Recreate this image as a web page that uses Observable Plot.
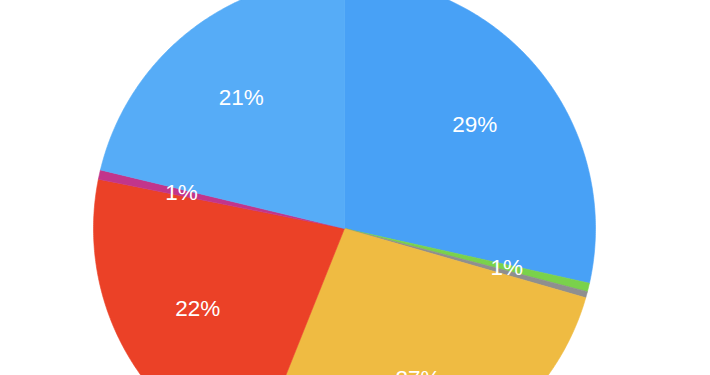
<!DOCTYPE html>
<html>
<head>
<meta charset="utf-8">
<script src="https://cdn.jsdelivr.net/npm/d3@7"></script>
<script src="https://cdn.jsdelivr.net/npm/@observablehq/plot@0.6"></script>
<style>
  html, body { margin: 0; padding: 0; background: #ffffff; overflow: hidden; }
  #chart svg { display: block; }
</style>
</head>
<body>
<div id="chart"></div>
<script>
// Slice data (clockwise from 12 o'clock)
const categories = ["A", "B", "C", "D", "E", "F", "G"];
const values = [28.5, 0.55, 0.4, 26.6, 22.1, 0.6, 21.25];
const labels = ["29%", "1%", "", "27%", "22%", "1%", "21%"];
const colors = ["#48a1f6", "#7ad24b", "#8f8f8f", "#efbb42", "#eb4127", "#c2358b", "#56acf7"];

const W = 710, H = 375;
const cx = 344, cy = 228, R = 251;

const pie = d3.pie().sort(null).value(d => d.value);
const arcs = pie(categories.map((c, i) => ({ category: c, value: values[i], label: labels[i], color: colors[i] })));

// Build polygon outlines for each slice from the pie angles
const polys = [];
arcs.forEach((a, i) => {
  const pts = [{ x: 0, y: 0 }];
  const n = Math.max(2, Math.ceil((a.endAngle - a.startAngle) / (Math.PI / 360)));
  for (let k = 0; k <= n; k++) {
    const t = a.startAngle + (a.endAngle - a.startAngle) * k / n;
    pts.push({ x: R * Math.sin(t), y: R * Math.cos(t) });
  }
  pts.push({ x: 0, y: 0 });
  pts.forEach(p => polys.push({ ...p, category: a.data.category, color: a.data.color }));
});

const labelPts = arcs.filter(a => a.data.label).map(a => {
  const m = (a.startAngle + a.endAngle) / 2;
  const r = R * 0.665;
  return { x: r * Math.sin(m), y: r * Math.cos(m), label: a.data.label };
});

const chart = Plot.plot({
  width: W,
  height: H,
  margin: 0,
  x: { domain: [-cx, W - cx], axis: null },
  y: { domain: [-(H - cy), cy], axis: null },
  marks: [
    Plot.line(polys, {
      x: "x", y: "y", z: "category",
      fill: d => d.color, stroke: d => d.color, strokeWidth: 0.6,
      curve: "linear"
    }),
    Plot.text(labelPts, {
      x: "x", y: "y", text: "label",
      fill: "white", fontSize: 22.5, dy: 0.5,
      fontFamily: "Liberation Sans, Arial, Helvetica, sans-serif"
    })
  ]
});
chart.style.fontFamily = "Liberation Sans, Arial, Helvetica, sans-serif";
document.getElementById("chart").appendChild(chart);
</script>
</body>
</html>
